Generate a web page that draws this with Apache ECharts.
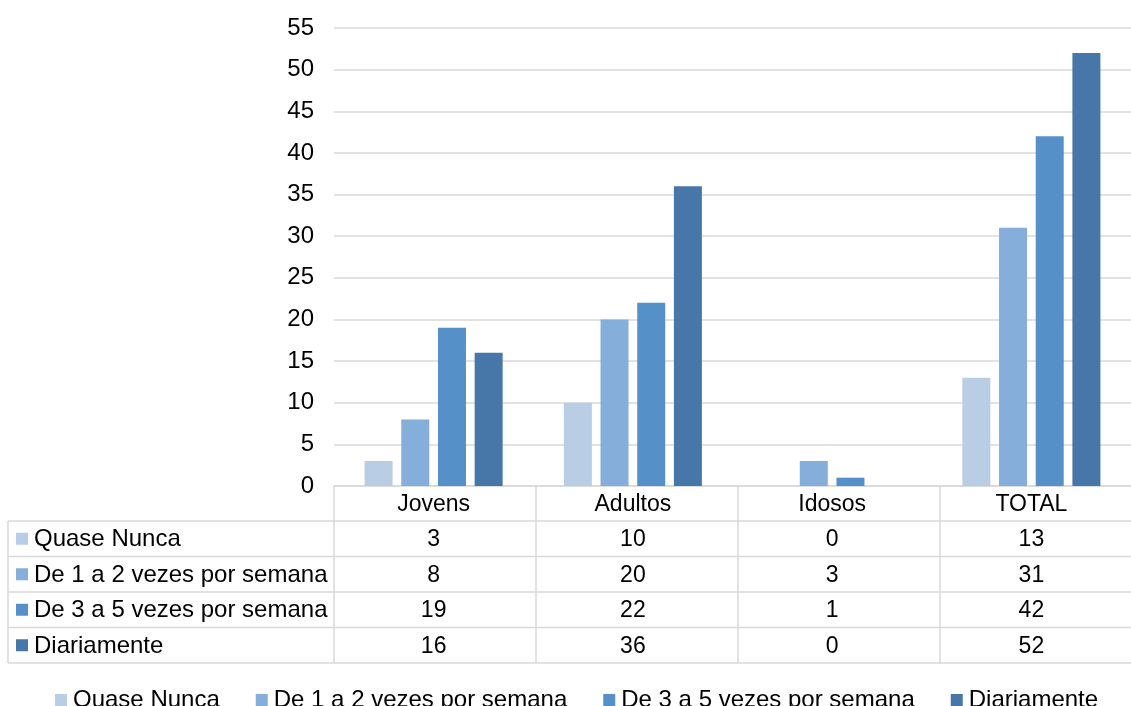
<!DOCTYPE html>
<html>
<head>
<meta charset="utf-8">
<script src="https://cdn.jsdelivr.net/npm/echarts@6/dist/echarts.min.js"></script>
<style>
  html, body { margin: 0; padding: 0; background: #fff; }
  #chart { width: 1131px; height: 706px; }
</style>
</head>
<body>
<div id="chart"></div>
<script>
// Categories and series values
const categories = ['Jovens', 'Adultos', 'Idosos', 'TOTAL'];
const seriesNames = ['Quase Nunca', 'De 1 a 2 vezes por semana', 'De 3 a 5 vezes por semana', 'Diariamente'];
const quaseNunca = [3, 10, 0, 13];
const de1a2 = [8, 20, 3, 31];
const de3a5 = [19, 22, 1, 42];
const diariamente = [16, 36, 0, 52];
const yMin = 0, yMax = 55, yStep = 5;

const seriesValues = [quaseNunca, de1a2, de3a5, diariamente];
const colors = ['#B9CDE5', '#86AEDB', '#5591C8', '#4777A8'];

const FONT = "'Liberation Sans', Arial, sans-serif";
const FS = 23;        // axis labels and cell values
const FS_LABEL = 24;  // row labels and legend
const GRID = { left: 334, top: 28, width: 808, height: 458 };
const LINE = '#D9D9D9';
// data table geometry under the plot
const TABLE_LEFT = 8;
const HEADER_H = 35;
const ROW_H = 35.5;

const chart = echarts.init(document.getElementById('chart'), null, { renderer: 'canvas' });

const option = {
  backgroundColor: '#fff',
  animation: false,
  textStyle: { fontFamily: FONT },
  grid: { left: GRID.left, top: GRID.top, width: GRID.width, height: GRID.height, containLabel: false },
  legend: {
    top: 683, left: 50,
    icon: 'rect', itemWidth: 12, itemHeight: 12, itemGap: 36,
    textStyle: { fontFamily: FONT, fontSize: FS_LABEL, color: '#000', padding: [0, 0, 0, 1] },
    data: seriesNames
  },
  xAxis: {
    type: 'category',
    data: categories,
    axisLine: { show: true, lineStyle: { color: LINE, width: 1.5 } },
    axisTick: { show: false },
    axisLabel: { color: '#000', fontSize: FS, fontFamily: FONT, margin: 7 }
  },
  yAxis: {
    type: 'value', min: yMin, max: yMax, interval: yStep,
    axisLine: { show: false }, axisTick: { show: false },
    axisLabel: { color: '#000', fontSize: FS_LABEL, fontFamily: FONT, margin: 20 },
    splitLine: { lineStyle: { color: LINE, width: 1.5 } }
  },
  series: seriesNames.map((name, i) => ({
    name, type: 'bar',
    data: seriesValues[i],
    barWidth: 28, barGap: '31%',
    itemStyle: { color: colors[i] }
  }))
};
chart.setOption(option);

// Build the data table beneath the axis
const bottom = GRID.top + GRID.height;
const right = GRID.left + GRID.width;
const catW = GRID.width / categories.length;
const rowTop = bottom + HEADER_H;            // first data row top
const tableBottom = rowTop + ROW_H * seriesNames.length;
const g = [];

// horizontal rules
for (let r = 0; r <= seriesNames.length; r++) {
  const y = rowTop + r * ROW_H;
  g.push({ type: 'line', shape: { x1: TABLE_LEFT, y1: y, x2: right, y2: y }, style: { stroke: LINE, lineWidth: 1.5 }, silent: true });
}
// vertical rules
g.push({ type: 'line', shape: { x1: TABLE_LEFT, y1: rowTop, x2: TABLE_LEFT, y2: tableBottom }, style: { stroke: LINE, lineWidth: 1.5 }, silent: true });
for (let c = 0; c <= categories.length; c++) {
  const x = GRID.left + c * catW;
  g.push({ type: 'line', shape: { x1: x, y1: bottom, x2: x, y2: tableBottom }, style: { stroke: LINE, lineWidth: 1.5 }, silent: true });
}
// row labels with colour keys, and cell values
seriesNames.forEach((name, r) => {
  const cy = rowTop + r * ROW_H + ROW_H / 2;
  g.push({ type: 'rect', shape: { x: 16, y: cy - 6, width: 12, height: 12 }, style: { fill: colors[r] }, silent: true });
  g.push({ type: 'text', x: 34, y: cy + 1, style: { text: name, fontSize: FS_LABEL, fontFamily: FONT, fill: '#000', verticalAlign: 'middle', align: 'left' }, silent: true });
  categories.forEach((cat, c) => {
    const cx = chart.convertToPixel({ xAxisIndex: 0 }, cat);
    g.push({ type: 'text', x: cx, y: cy + 1, style: { text: String(seriesValues[r][c]), fontSize: FS, fontFamily: FONT, fill: '#000', align: 'center', verticalAlign: 'middle' }, silent: true });
  });
});
chart.setOption({ graphic: { elements: g } });
</script>
</body>
</html>
